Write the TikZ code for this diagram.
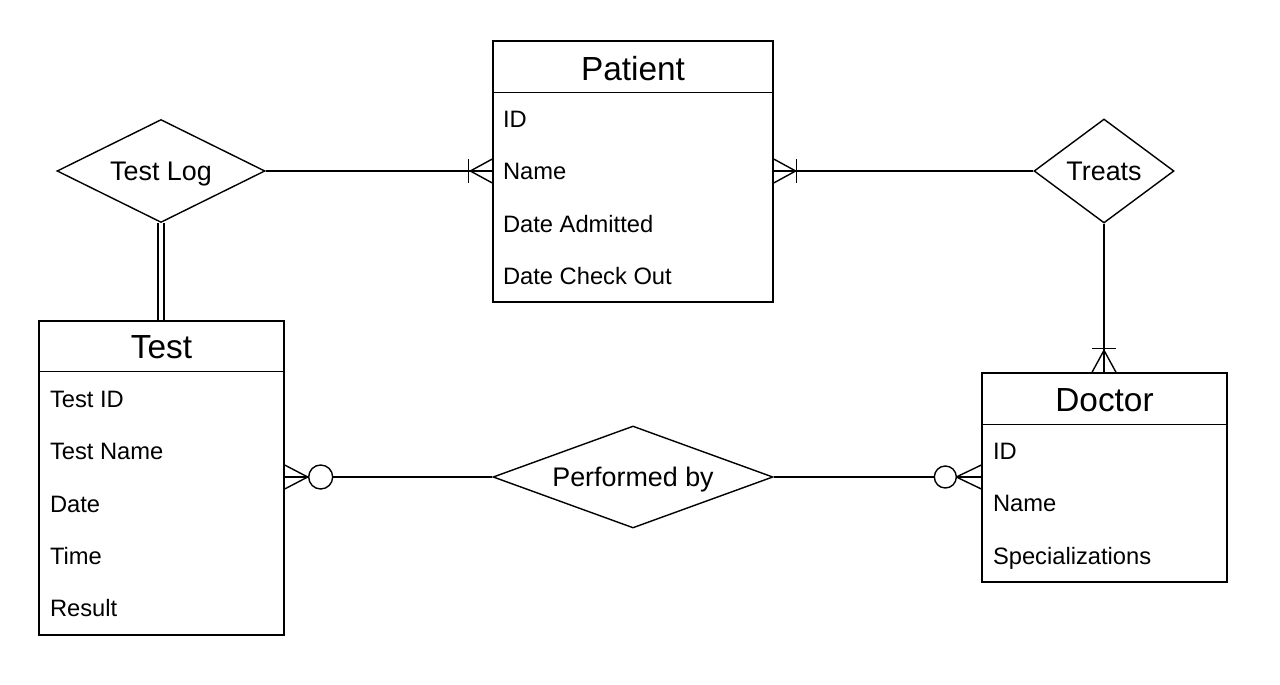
\documentclass[tikz,border=0pt]{standalone}
\usepackage{fontspec}
\setmainfont{Liberation Sans}
\usetikzlibrary{positioning,calc,shapes.geometric}

\begin{document}
\begin{tikzpicture}[x=0.02cm,y=-0.02cm,line width=0.8pt,
    entity/.style={draw,rectangle,inner sep=0pt},
    relation/.style={draw,diamond,inner sep=0pt,text depth=0pt,font=\fontsize{15.3}{18}\selectfont},
    title/.style={inner sep=0pt,text depth=0pt,font=\fontsize{19}{22}\selectfont},
    attr/.style={anchor=west,inner sep=0pt,text height=0.716em,text depth=0pt,font=\fontsize{13.5}{16}\selectfont}]
  \useasboundingbox (0,0) rectangle (1280,685);

  % entities
  \node[entity,minimum width=5.6cm,minimum height=5.22cm] (patient) at (633,171.5) {};
  \node[entity,minimum width=4.9cm,minimum height=6.28cm] (test)    at (161.5,478) {};
  \node[entity,minimum width=4.9cm,minimum height=4.18cm] (doctor)  at (1104.5,477.5) {};

  \draw ($(patient.north west)+(0,52)$) -- ($(patient.north east)+(0,52)$);
  \draw ($(test.north west)+(0,51)$)    -- ($(test.north east)+(0,51)$);
  \draw ($(doctor.north west)+(0,52)$)  -- ($(doctor.north east)+(0,52)$);

  \node[title] (patientT) at ($(patient.north)+(0,28)$) {Patient};
  \node[title] (testT)    at ($(test.north)+(0,27)$)    {Test};
  \node[title] (doctorT)  at ($(doctor.north)+(0,28)$)  {Doctor};

  \foreach \txt [count=\i] in {ID,Name,Date Admitted,Date Check Out}
    \node[attr] (patient-\i) at ($(patient.north west)+(10,28.5+52.3*\i)$) {\txt};
  \foreach \txt [count=\i] in {Test ID,Test Name,Date,Time,Result}
    \node[attr] (test-\i) at ($(test.north west)+(11,28.5+52.3*\i)$) {\txt};
  \foreach \txt [count=\i] in {ID,Name,Specializations}
    \node[attr] (doctor-\i) at ($(doctor.north west)+(11,28.5+52.3*\i)$) {\txt};

  % relationships
  \node[relation,aspect=2.02,minimum width=4.16cm,minimum height=2.06cm] (testlog)   at (161,171)  {Test Log};
  \node[relation,aspect=1.35,minimum width=2.8cm,minimum height=2.08cm]  (treats)    at (1104,171) {Treats};
  \node[relation,aspect=2.75,minimum width=5.6cm,minimum height=2.04cm]  (performed) at (633,477)  {Performed by};

  % connectors
  \coordinate (pw) at (patient.west |- testlog.east);
  \coordinate (pe) at (patient.east |- treats.west);
  \coordinate (dn) at (treats.south |- doctor.north);
  \coordinate (te) at (test.east |- performed.west);
  \coordinate (dw) at (doctor.west |- performed.east);

  \draw (testlog.east) -- (pw);
  \draw (pw) ++(-22,0) -- ++(22,-12) (pw) ++(-22,0) -- ++(22,12);
  \draw (pw) ++(-24,-12) -- ++(0,24);

  \draw (treats.west) -- (pe);
  \draw (pe) ++(22,0) -- ++(-22,-12) (pe) ++(22,0) -- ++(-22,12);
  \draw (pe) ++(23,-12) -- ++(0,24);

  \draw (treats.south) -- (dn);
  \draw (dn) ++(0,-22) -- ++(-12,22) (dn) ++(0,-22) -- ++(12,22);
  \draw (dn) ++(-12,-24) -- ++(24,0);

  \draw[double,double distance=2.6pt] (testlog.south) -- (test.north -| testlog.south);

  \draw (performed.west) -- (te);
  \draw (te) ++(23,0) -- ++(-23,-12) (te) ++(23,0) -- ++(-23,12);
  \draw[fill=white] ($(te)+(36,0)$) circle[radius=0.24cm];

  \draw (performed.east) -- (dw);
  \draw (dw) ++(-25,0) -- ++(25,-12) (dw) ++(-25,0) -- ++(25,12);
  \draw[fill=white] ($(dw)+(-36,0)$) circle[radius=0.22cm];
\end{tikzpicture}
\end{document}
